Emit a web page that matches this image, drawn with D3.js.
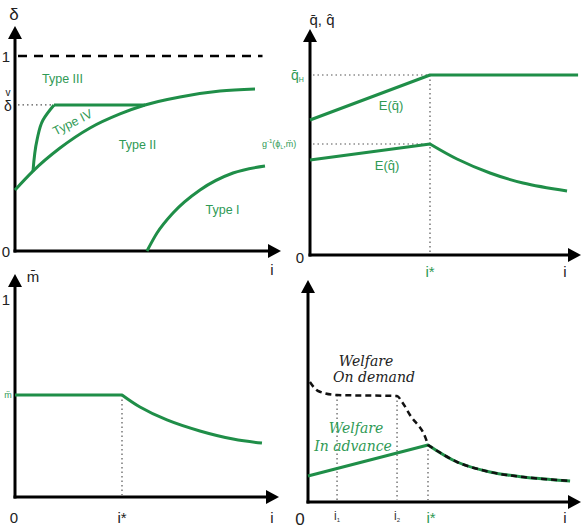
<!DOCTYPE html>
<html>
<head>
<meta charset="utf-8">
<script src="https://cdn.jsdelivr.net/npm/d3@7"></script>
<style>
  body { margin: 0; background: #fff; }
  svg { display: block; font-family: "Liberation Sans", Arial, sans-serif; }
</style>
</head>
<body>
<svg id="chart" width="583" height="530"></svg>
<script>
// ---------------------------
// Data (i on x, value on y)
// ---------------------------
// panel 1 : delta regions
const typeIICurve = [[0, 0.313], [0.72, 0.41], [1.8, 0.528], [3.0, 0.631], [4.2, 0.703], [5.2, 0.749], [6.6, 0.79], [8.2, 0.82], [9.6, 0.831]];
const typeIVEdge = [[0.72, 0.41], [0.88, 0.569], [1.12, 0.672], [1.56, 0.749]];
const deltaCheck = 0.749;
const deltaFlat = [[1.56, 0.749], [5.2, 0.749]];
const typeICurve = [[5.28, 0], [5.68, 0.092], [6.32, 0.195], [7.4, 0.313], [8.72, 0.4], [10.0, 0.436]];
const typeLabels = [
  { text: 'Type III', i: 1.9, d: 0.885, rot: 0 },
  { text: 'Type IV', i: 2.3, d: 0.66, rot: -27 },
  { text: 'Type II', i: 4.9, d: 0.545, rot: 0 },
  { text: 'Type I', i: 8.3, d: 0.21, rot: 0 }
];

// panel 2 : expected quality
const iStar = 5;
const qBarH = 0.9;
const qHatTop = 0.555;
const eqBar = [[0, 0.675], [5, 0.9], [11.17, 0.9]];
const eqHat = [[0, 0.475], [5, 0.555], [6.125, 0.48], [7.5, 0.41], [8.875, 0.36], [10.71, 0.32]];

// panel 3 : m bar
const mDots = 0.518;
const mBar = [[0, 0.518], [5, 0.518], [5.84, 0.457], [7.1, 0.391], [8.64, 0.335], [10.19, 0.294], [11.54, 0.274]];

// panel 4 : welfare
const i1 = 1.21, i2 = 3.71;
const welfareAdvance = [[0, 0.13], [5, 0.285], [6.21, 0.2], [7.58, 0.15], [8.96, 0.125], [10.92, 0.105]];
const welfareDemand = [[0.08, 0.6], [0.42, 0.555], [1.21, 0.535], [3.71, 0.53], [3.92, 0.5], [4.25, 0.435], [4.96, 0.3], [5, 0.285], [6.21, 0.2], [7.58, 0.15], [8.96, 0.125], [10.92, 0.105]];

// ---------------------------
// Style
// ---------------------------
const GREEN = '#1f8e48';
const GREEN_TXT = '#2f9a55';
const svg = d3.select('#chart');

// ---------------------------
// Axes with arrows
// ---------------------------
function drawAxes(x0, y0, xEnd, yEnd) {
  const g = svg.append('g');
  g.append('line').attr('x1', x0).attr('y1', y0 + 1.5).attr('x2', x0).attr('y2', yEnd + 10)
    .attr('stroke', '#000').attr('stroke-width', 3);
  g.append('line').attr('x1', x0 - 1.5).attr('y1', y0).attr('x2', xEnd - 10).attr('y2', y0)
    .attr('stroke', '#000').attr('stroke-width', 3);
  g.append('path').attr('d', `M${x0 - 7},${yEnd + 13} L${x0},${yEnd} L${x0 + 7},${yEnd + 13} Z`).attr('fill', '#000');
  g.append('path').attr('d', `M${xEnd - 13},${y0 - 7} L${xEnd},${y0} L${xEnd - 13},${y0 + 7} Z`).attr('fill', '#000');
}

function label(x, y, text, opts = {}) {
  return svg.append('text')
    .attr('x', x).attr('y', y)
    .attr('text-anchor', opts.anchor || 'middle')
    .attr('font-size', opts.size || 14)
    .attr('fill', opts.fill || '#222')
    .text(text);
}

function curve(xs, ys, pts, color, width, dash, kind) {
  const line = d3.line().x(d => xs(d[0])).y(d => ys(d[1])).curve(kind || d3.curveMonotoneX);
  return svg.append('path').datum(pts)
    .attr('d', line)
    .attr('fill', 'none')
    .attr('stroke', color)
    .attr('stroke-width', width)
    .attr('stroke-linejoin', 'round')
    .attr('stroke-dasharray', dash || null);
}

// one path with a sharp kink at index k : head and tail are smoothed separately
function kinked(xs, ys, pts, k, color, width, dash, headKind) {
  const head = d3.line().x(d => xs(d[0])).y(d => ys(d[1])).curve(headKind || d3.curveLinear);
  const tail = d3.line().x(d => xs(d[0])).y(d => ys(d[1])).curve(d3.curveCatmullRom.alpha(0.5));
  const d = head(pts.slice(0, k + 1)) + tail(pts.slice(k)).replace(/^M/, 'L');
  return svg.append('path')
    .attr('d', d)
    .attr('fill', 'none')
    .attr('stroke', color)
    .attr('stroke-width', width)
    .attr('stroke-linejoin', 'round')
    .attr('stroke-dasharray', dash || null);
}

function dotted(x1, y1, x2, y2) {
  svg.append('line').attr('x1', x1).attr('y1', y1).attr('x2', x2).attr('y2', y2)
    .attr('stroke', '#555').attr('stroke-width', 1.2).attr('stroke-dasharray', '1.5,3');
}

// ---------------------------
// Panel 1 : delta
// ---------------------------
{
  const x = d3.scaleLinear().domain([0, 10]).range([15, 265]);
  const y = d3.scaleLinear().domain([0, 1]).range([251, 56]);
  drawAxes(15, 251, 281, 26);
  label(14, 20, 'δ', { size: 17 });
  label(6, 62, '1', { size: 15 });
  label(6, 257, '0', { size: 15 });
  label(272, 275, 'i', { size: 15 });

  svg.append('line').attr('x1', x(0.12)).attr('y1', y(1)).attr('x2', x(9.9)).attr('y2', y(1))
    .attr('stroke', '#000').attr('stroke-width', 2.5).attr('stroke-dasharray', '9,7');

  dotted(x(0) + 3, y(deltaCheck), x(1.56), y(deltaCheck));
  label(8, y(deltaCheck) - 9, 'v', { size: 10 });
  label(8, y(deltaCheck) + 6, 'δ', { size: 14 });

  curve(x, y, typeIICurve, GREEN, 3, null, d3.curveMonotoneX);
  curve(x, y, typeIVEdge, GREEN, 3, null, d3.curveMonotoneY);
  curve(x, y, deltaFlat, GREEN, 3, null, d3.curveLinear);
  curve(x, y, typeICurve, GREEN, 3, null, d3.curveMonotoneX);

  typeLabels.forEach(t => {
    svg.append('text')
      .attr('transform', `translate(${x(t.i)},${y(t.d)}) rotate(${t.rot})`)
      .attr('text-anchor', 'middle').attr('dy', '0.35em')
      .attr('font-size', 12.5).attr('fill', GREEN_TXT)
      .text(t.text);
  });
}

// ---------------------------
// Panel 2 : q bar, q hat
// ---------------------------
{
  const x = d3.scaleLinear().domain([0, 10]).range([310, 550]);
  const y = d3.scaleLinear().domain([0, 1]).range([255, 55]);
  drawAxes(310, 255, 581, 29);
  label(322, 25, 'q̄, q̂', { size: 15 });
  label(300, 263, '0', { size: 15 });
  label(x(iStar), 277, 'i*', { size: 15, fill: GREEN_TXT });
  label(565, 277, 'i', { size: 15 });

  dotted(x(0) + 3, y(qBarH), x(iStar), y(qBarH));
  dotted(x(0) + 3, y(qHatTop), x(iStar), y(qHatTop));
  dotted(x(iStar), y(qBarH), x(iStar), 253);

  const qh = svg.append('text').attr('x', 291).attr('y', y(qBarH) + 5).attr('font-size', 14).attr('fill', GREEN_TXT);
  qh.append('tspan').text('q̄');
  qh.append('tspan').attr('font-size', 7).attr('dy', 2).text('H');

  const gl = svg.append('text').attr('x', 262).attr('y', y(qHatTop) + 3).attr('font-size', 9).attr('fill', GREEN_TXT);
  gl.append('tspan').text('g');
  gl.append('tspan').attr('font-size', 6).attr('dy', -4).text('-1');
  gl.append('tspan').attr('dy', 4).text('(ϕ');
  gl.append('tspan').attr('font-size', 5).attr('dy', 2).text('L');
  gl.append('tspan').attr('dy', -2).text(',m̈)');

  curve(x, y, eqBar, GREEN, 3, null, d3.curveLinear);
  kinked(x, y, eqHat, 1, GREEN, 3);

  label(391, 110, 'E(q̄)', { size: 13, fill: GREEN_TXT });
  label(387, 170, 'E(q̂)', { size: 13, fill: GREEN_TXT });
}

// ---------------------------
// Panel 3 : m bar
// ---------------------------
{
  const x = d3.scaleLinear().domain([0, 10]).range([15, 229]);
  const y = d3.scaleLinear().domain([0, 1]).range([497, 300]);
  drawAxes(15, 497, 279, 274);
  label(33, 282, 'm̄', { size: 15 });
  label(6, 305, '1', { size: 15 });
  label(8, y(mDots) + 3, 'm̈', { size: 9, fill: GREEN_TXT });
  label(14, 523, '0', { size: 15 });
  label(x(iStar), 523, 'i*', { size: 15 });
  label(272, 523, 'i', { size: 15 });

  dotted(x(iStar), y(mDots), x(iStar), 495);
  kinked(x, y, mBar, 1, GREEN, 3);
}

// ---------------------------
// Panel 4 : welfare
// ---------------------------
{
  const x = d3.scaleLinear().domain([0, 10]).range([308, 548]);
  const y = d3.scaleLinear().domain([0, 1]).range([502, 302]);
  drawAxes(308, 502, 581, 280);
  label(300, 525, '0', { size: 17 });
  const l1 = svg.append('text').attr('x', x(i1) - 3).attr('y', 520).attr('font-size', 12).attr('fill', '#333');
  l1.append('tspan').text('i');
  l1.append('tspan').attr('font-size', 6).attr('dy', 2).text('1');
  const l2 = svg.append('text').attr('x', x(i2) - 3).attr('y', 520).attr('font-size', 12).attr('fill', '#333');
  l2.append('tspan').text('i');
  l2.append('tspan').attr('font-size', 6).attr('dy', 2).text('2');
  label(x(iStar) + 3, 523, 'i*', { size: 15, fill: GREEN_TXT });
  label(565, 523, 'i', { size: 15 });

  dotted(x(i1), y(0.535), x(i1), 500);
  dotted(x(i2), y(0.53), x(i2), 500);
  dotted(x(iStar), y(0.285), x(iStar), 500);

  kinked(x, y, welfareAdvance, 1, GREEN, 3);
  kinked(x, y, welfareDemand, 7, '#111', 2.5, '6,4', d3.curveMonotoneX);

  const script = '"DejaVu Serif", "Liberation Serif", serif';
  svg.append('text').attr('x', 366).attr('y', 366).attr('text-anchor', 'middle')
    .attr('font-family', script).attr('font-style', 'italic').attr('font-size', 14).attr('fill', '#222').text('Welfare');
  svg.append('text').attr('x', 374).attr('y', 382).attr('text-anchor', 'middle')
    .attr('font-family', script).attr('font-style', 'italic').attr('font-size', 14).attr('fill', '#222').text('On demand');
  svg.append('text').attr('x', 356).attr('y', 433).attr('text-anchor', 'middle')
    .attr('font-family', script).attr('font-style', 'italic').attr('font-size', 14).attr('fill', GREEN_TXT).text('Welfare');
  svg.append('text').attr('x', 353).attr('y', 451).attr('text-anchor', 'middle')
    .attr('font-family', script).attr('font-style', 'italic').attr('font-size', 14).attr('fill', GREEN_TXT).text('In advance');
}
</script>
</body>
</html>
